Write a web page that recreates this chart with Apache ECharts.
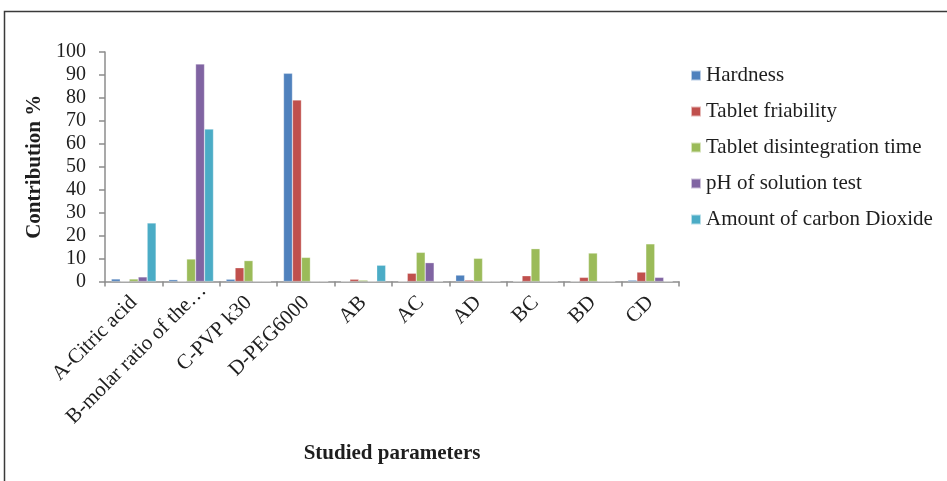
<!DOCTYPE html>
<html>
<head>
<meta charset="utf-8">
<script src="https://cdn.jsdelivr.net/npm/echarts@6/dist/echarts.min.js"></script>
<style>
  html, body { margin: 0; padding: 0; background: #fff; }
  #chart { width: 947px; height: 481px; }
</style>
</head>
<body>
<div id="chart"></div>
<script>
// Factors and interactions studied
const categories = ['A-Citric acid', 'B-molar ratio of the…', 'C-PVP k30', 'D-PEG6000',
                    'AB', 'AC', 'AD', 'BC', 'BD', 'CD'];

// Percent contribution of each factor to each response
const hardness       = [1.1, 0.8, 1.0, 90.7, 0,   0,   2.8,  0,    0,    0.6];
const friability     = [0,   0,   6.0, 79.1, 1.0, 3.6, 0.6,  2.5,  1.8,  4.1];
const disintegration = [1.1, 9.8, 9.1, 10.5, 0.6, 12.7, 10.1, 14.3, 12.4, 16.4];
const phTest         = [2.0, 94.8, 0,  0,    0,   8.2, 0,    0,    0,    1.8];
const co2Amount      = [25.5, 66.4, 0, 0,    7.1, 0,   0,    0,    0,    0];

const seriesNames = ['Hardness', 'Tablet friability', 'Tablet disintegration time',
                     'pH of solution test', 'Amount of carbon Dioxide'];
const seriesData = [hardness, friability, disintegration, phTest, co2Amount];
const colors = ['#4F81BD', '#C0504D', '#9BBB59', '#8064A2', '#4BACC6'];

const yTicks = { min: 0, max: 100, interval: 10 };

const font = 'Liberation Serif, Times New Roman, serif';
const axisGrey = '#8c8c8c';
const textColor = '#1e1e1e';

// The truncated long label sits a little further along its slant
const categoryItems = categories.map(c =>
  c.endsWith('…') ? { value: c, textStyle: { padding: [0, -17, 0, 0] } } : c
);

const chart = echarts.init(document.getElementById('chart'), null, { renderer: 'canvas' });

chart.setOption({
  animation: false,
  backgroundColor: '#ffffff',
  color: colors,
  textStyle: { fontFamily: font },
  grid: { left: 105, right: 268, top: 52, bottom: 199.5, containLabel: false },
  legend: {
    orient: 'vertical',
    left: 685,
    top: 60,
    itemWidth: 10,
    itemHeight: 10,
    itemGap: 15,
    icon: 'rect',
    textStyle: { fontFamily: font, fontSize: 21, color: textColor },
    data: seriesNames
  },
  xAxis: {
    type: 'category',
    data: categoryItems,
    name: 'Studied parameters',
    nameLocation: 'middle',
    nameGap: 162,
    nameTextStyle: { fontFamily: font, fontSize: 21, fontWeight: 'bold', color: textColor },
    axisLine: { lineStyle: { color: axisGrey, width: 1.5 } },
    axisTick: { show: true, alignWithLabel: false, length: 5, lineStyle: { color: axisGrey, width: 1.5 } },
    axisLabel: { interval: 0, rotate: 45, margin: 18, fontFamily: font, fontSize: 21, color: textColor },
    splitLine: { show: false }
  },
  yAxis: {
    type: 'value',
    min: yTicks.min,
    max: yTicks.max,
    interval: yTicks.interval,
    name: 'Contribution %',
    nameLocation: 'middle',
    nameGap: 58,
    nameRotate: 90,
    nameTextStyle: { fontFamily: font, fontSize: 21, fontWeight: 'bold', color: textColor },
    axisLine: { show: true, lineStyle: { color: axisGrey, width: 1.5 } },
    axisTick: { show: true, length: 6, lineStyle: { color: axisGrey, width: 1.5 } },
    axisLabel: { margin: 19, fontFamily: font, fontSize: 20, color: textColor },
    splitLine: { show: false }
  },
  series: seriesNames.map((name, i) => ({
    name: name,
    type: 'bar',
    data: seriesData[i],
    barGap: '0%',
    barCategoryGap: '22%',
    itemStyle: { color: colors[i], borderColor: 'rgba(255,255,255,0.6)', borderWidth: 0.5 }
  })),
  graphic: [
    {
      type: 'polyline',
      silent: true,
      shape: { points: [[4.5, 481], [4.5, 11.5], [947, 11.5]] },
      style: { stroke: '#3a3a3a', lineWidth: 1.5, fill: null }
    }
  ]
});
</script>
</body>
</html>
